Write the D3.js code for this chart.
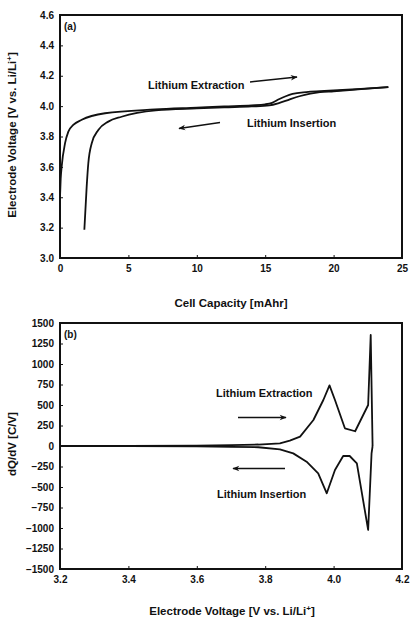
<!DOCTYPE html>
<html><head><meta charset="utf-8">
<script src="https://cdn.jsdelivr.net/npm/d3@7"></script>
<style>body{margin:0;background:#fff}svg{display:block}text{font-family:"Liberation Sans",Arial,sans-serif;font-weight:bold;fill:#111}</style>
</head><body>
<script>
// Panel (a): cell capacity [mAhr] vs electrode voltage [V]
const extractionCap = [0, 0.05, 0.12, 0.37, 0.61, 0.97, 1.59, 3.29, 6.94, 10, 12, 14, 15, 15.5, 16, 16.5, 17, 18, 19, 20, 22, 24];
const extractionV   = [3.40, 3.52, 3.60, 3.756, 3.832, 3.876, 3.91, 3.953, 3.978, 3.99, 3.998, 4.005, 4.012, 4.022, 4.045, 4.065, 4.08, 4.092, 4.098, 4.103, 4.113, 4.125];
const insertionCap  = [24, 22, 20, 19, 18.3, 17.5, 16.8, 16, 15.3, 14, 12, 10, 7, 4.5, 3.53, 2.8, 2.32, 2.07, 1.95, 1.78];
const insertionV    = [4.125, 4.112, 4.098, 4.092, 4.082, 4.065, 4.045, 4.02, 4.005, 3.998, 3.992, 3.985, 3.972, 3.93, 3.898, 3.843, 3.756, 3.624, 3.47, 3.186];
const capTicks = [0, 5, 10, 15, 20, 25];
const voltTicksA = [3.0, 3.2, 3.4, 3.6, 3.8, 4.0, 4.2, 4.4, 4.6];

// Panel (b): dQ/dV [C/V] vs electrode voltage [V]
const extrVolt = [3.2, 3.4, 3.6, 3.7, 3.78, 3.843, 3.872, 3.902, 3.941, 3.970, 3.988, 4.004, 4.033, 4.063, 4.101, 4.1085, 4.114];
const extrDQ   = [0, 2, 5, 10, 18, 33, 65, 114, 317, 561, 740, 561, 216, 180, 500, 1354, 0];
const insVolt  = [4.114, 4.111, 4.101, 4.068, 4.047, 4.028, 4.004, 3.980, 3.955, 3.921, 3.882, 3.843, 3.78, 3.7, 3.6, 3.4, 3.2];
const insDQ    = [0, -89, -1024, -211, -122, -122, -293, -577, -333, -191, -90, -40, -15, -10, -5, -2, 0];
const voltTicksB = [3.2, 3.4, 3.6, 3.8, 4.0, 4.2];
const dqTicks = [-1500, -1250, -1000, -750, -500, -250, 0, 250, 500, 750, 1000, 1250, 1500];

const W = 410, H = 618;
const svg = d3.select("body").append("svg").attr("width", W).attr("height", H);

function panel(cfg) {
  const x = d3.scaleLinear().domain(cfg.xDomain).range([60, 402]);
  const y = d3.scaleLinear().domain(cfg.yDomain).range([cfg.bottom, cfg.top]);
  const g = svg.append("g");
  const xAxis = d3.axisBottom(x).tickValues(cfg.xTicks).tickSize(-3).tickPadding(7).tickFormat(cfg.xFmt);
  const yAxis = d3.axisLeft(y).tickValues(cfg.yTicks).tickSize(-3).tickPadding(6).tickFormat(cfg.yFmt);
  const gx = g.append("g").attr("transform", `translate(0,${cfg.bottom})`).call(xAxis);
  const gy = g.append("g").attr("transform", `translate(60,0)`).call(yAxis);
  [gx, gy].forEach(a => {
    a.select(".domain").remove();
    a.selectAll(".tick line").attr("stroke", "#111").attr("stroke-width", 1);
    a.selectAll(".tick text").style("font-size", "10px").style("font-family", "Liberation Sans, Arial, sans-serif").style("font-weight", "bold").attr("fill", "#111");
  });
  g.append("rect").attr("x", 60).attr("y", cfg.top).attr("width", 342).attr("height", cfg.bottom - cfg.top)
    .attr("fill", "none").attr("stroke", "#111").attr("stroke-width", 2);
  const line = d3.line().x(d => x(d[0])).y(d => y(d[1])).curve(cfg.curve);
  cfg.series.forEach(s => {
    g.append("path").datum(s).attr("d", line).attr("fill", "none").attr("stroke", "#111").attr("stroke-width", 1.8).attr("stroke-linejoin", "round");
  });
  g.append("text").attr("x", 64).attr("y", cfg.top + 15).style("font-size", "10px").text(cfg.tag);
  return {x, y, g};
}

const zip = (a, b) => a.map((v, i) => [v, b[i]]);

panel({xDomain: [0, 25], yDomain: [3.0, 4.6], top: 15, bottom: 258, xTicks: capTicks, yTicks: voltTicksA,
  xFmt: d3.format("d"), yFmt: d3.format(".1f"), tag: "(a)", curve: d3.curveMonotoneX,
  series: [zip(extractionCap, extractionV), zip(insertionCap, insertionV).reverse()]});

panel({xDomain: [3.2, 4.2], yDomain: [-1500, 1500], top: 323, bottom: 569, xTicks: voltTicksB, yTicks: dqTicks,
  xFmt: d3.format(".1f"), yFmt: d3.format("d"), tag: "(b)", curve: d3.curveLinear,
  series: [zip(extrVolt, extrDQ), zip(insVolt, insDQ)]});

// arrow marker
const defs = svg.append("defs");
defs.append("marker").attr("id", "ah").attr("viewBox", "0 0 10 10").attr("refX", 9).attr("refY", 5)
  .attr("markerWidth", 9).attr("markerHeight", 7).attr("markerUnits", "userSpaceOnUse").attr("orient", "auto")
  .append("path").attr("d", "M0,1 L10,5 L0,9 L3,5 Z").attr("fill", "#111");

function arrow(x1, y1, x2, y2) {
  svg.append("line").attr("x1", x1).attr("y1", y1).attr("x2", x2).attr("y2", y2)
    .attr("stroke", "#111").attr("stroke-width", 1.5).attr("marker-end", "url(#ah)");
}
function label(x, y, t) {
  svg.append("text").attr("x", x).attr("y", y).style("font-size", "11px").text(t);
}
label(148, 89, "Lithium Extraction");
arrow(250, 82, 297, 77);
label(247, 127, "Lithium Insertion");
arrow(220, 122.5, 179, 128.5);

label(216, 397, "Lithium Extraction");
arrow(238, 417.5, 286, 417.5);
label(217, 498, "Lithium Insertion");
arrow(285, 468.5, 233, 468.5);

// axis titles
function ytitle(cx, cy, parts) {
  const t = svg.append("text").attr("transform", `translate(${cx},${cy}) rotate(-90)`).attr("text-anchor", "middle").style("font-size", "11.5px");
  parts(t);
}
function voltTitle(t) {
  t.append("tspan").text("Electrode Voltage [V vs. Li/Li");
  t.append("tspan").attr("dy", -4).style("font-size", "8px").text("+");
  t.append("tspan").attr("dy", 4).text("]");
}
ytitle(16, 135, voltTitle);
ytitle(16, 444, t => t.text("dQ/dV [C/V]"));
svg.append("text").attr("x", 231).attr("y", 307).attr("text-anchor", "middle").style("font-size", "11.5px").text("Cell Capacity [mAhr]");
const bt = svg.append("text").attr("x", 232).attr("y", 615).attr("text-anchor", "middle").style("font-size", "11.5px");
voltTitle(bt);
</script>
</body></html>
